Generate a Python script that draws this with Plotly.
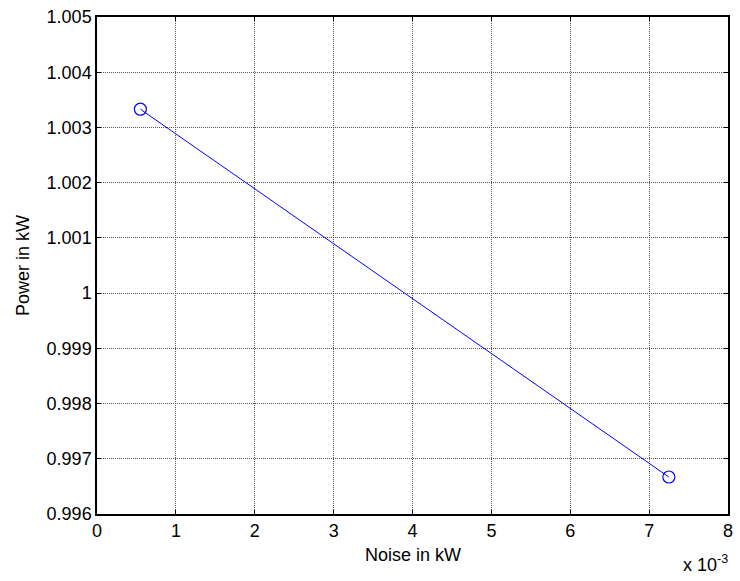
import plotly.graph_objects as go

# Measured operating points
noise_kw = [0.00055, 0.00725]
power_kw = [1.00333, 0.99667]

# Axis ticks (x axis shown in units of 10^-3 kW)
x_tickvals = [0, 0.001, 0.002, 0.003, 0.004, 0.005, 0.006, 0.007, 0.008]
x_ticktext = ["0", "1", "2", "3", "4", "5", "6", "7", "8"]
y_tickvals = [0.996, 0.997, 0.998, 0.999, 1.0, 1.001, 1.002, 1.003, 1.004, 1.005]
y_ticktext = ["0.996", "0.997", "0.998", "0.999", "1", "1.001", "1.002", "1.003", "1.004", "1.005"]

FONT = "Liberation Sans, Arial, sans-serif"
FS = 18

fig = go.Figure()
fig.add_trace(go.Scatter(
    x=noise_kw, y=power_kw,
    mode="lines+markers",
    line=dict(color="#0000ff", width=1),
    marker=dict(symbol="circle-open", size=12, color="#0000ff", line=dict(width=1.2)),
    showlegend=False,
))

axis_common = dict(
    showline=True, linecolor="black", linewidth=1.5, mirror="allticks",
    ticks="inside", ticklen=4, tickcolor="black", tickwidth=1,
    showgrid=True, gridcolor="#555555", griddash="1px,1px", gridwidth=1,
    zeroline=False,
    tickfont=dict(family=FONT, size=FS, color="black"),
)

fig.update_xaxes(range=[0, 0.008], tickmode="array", tickvals=x_tickvals,
                 ticktext=x_ticktext, **axis_common)
fig.update_yaxes(range=[0.996, 1.005], tickmode="array", tickvals=y_tickvals,
                 ticktext=y_ticktext, **axis_common)

fig.add_annotation(text="Noise in kW", xref="paper", yref="paper", x=0.5, y=-0.082,
                   xanchor="center", yanchor="middle", showarrow=False,
                   font=dict(family=FONT, size=FS, color="black"))
fig.add_annotation(text="Power in kW", xref="paper", yref="paper", x=-0.118, y=0.5,
                   xanchor="center", yanchor="middle", textangle=-90, showarrow=False,
                   font=dict(family=FONT, size=FS, color="black"))
fig.add_annotation(text="x 10<sup>-3</sup>", xref="paper", yref="paper", x=1.003, y=-0.1,
                   xanchor="right", yanchor="middle", showarrow=False,
                   font=dict(family=FONT, size=FS, color="black"))

fig.update_layout(
    width=740, height=581,
    margin=dict(l=97, r=7, t=14, b=67),
    paper_bgcolor="white", plot_bgcolor="white",
    font=dict(family=FONT, color="black"),
)

fig.write_html("out.html")
